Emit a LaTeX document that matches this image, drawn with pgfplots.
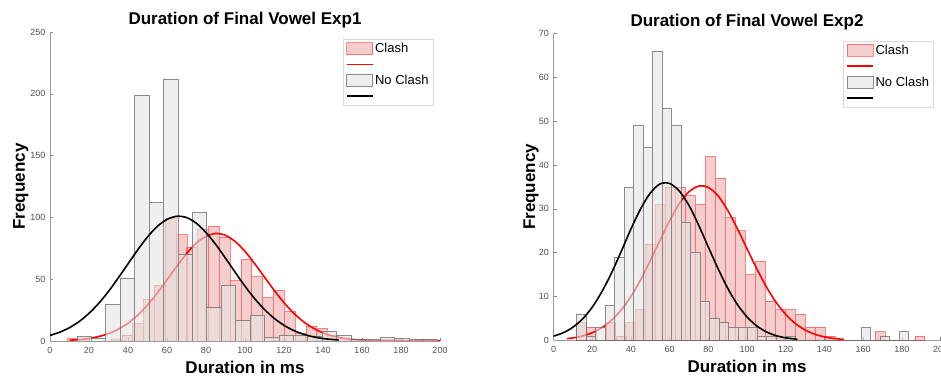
\documentclass[border=0pt]{standalone}
\usepackage{pgfplots}
\pgfplotsset{compat=1.18}
\usepackage{fontspec}
\setmainfont{Liberation Sans}
\definecolor{histred}{RGB}{228,130,130}
\definecolor{histgray}{RGB}{228,228,228}
\definecolor{edgegray}{RGB}{105,105,105}
\definecolor{ticklab}{RGB}{80,80,80}
\pgfplotsset{
  myaxis/.style={
    scale only axis,
    axis x line*=bottom, axis y line*=left,
    axis line style={black!40, line width=0.5pt, -},
    tick align=inside,
    major tick length=3pt,
    tick style={black!50, line width=0.5pt},
    xmin=0, xmax=200, ymin=0,
    xtick={0,20,...,200},
    /pgf/number format/assume math mode=true,
    tick label style={font=\fontsize{9}{10}\selectfont, text=ticklab},
    xticklabel style={anchor=base, yshift=-12.3pt},
    yticklabel style={xshift=-1.2pt},
    every axis title/.style={at={(axis description cs:0.5,1)}, anchor=base, yshift=7pt, font=\fontsize{17}{20}\selectfont\bfseries},
    every axis x label/.style={at={(axis description cs:0.5,0)}, anchor=base, yshift=-32pt, font=\fontsize{17}{20}\selectfont\bfseries},
    xlabel={Duration in ms}, ylabel={Frequency},
    legend style={at={(axis description cs:1,1)}, anchor=north east, xshift=-6.7pt, yshift=-7pt,
      draw=black!15, line width=0.6pt, font=\fontsize{13}{15}\selectfont,
      inner xsep=3pt, inner ysep=3pt, row sep=3.6pt,
      nodes={inner sep=0pt, inner xsep=1.5pt}},
    legend cell align=left,
    legend image code/.code={\draw[#1] (0pt,0pt) -- (26pt,0pt);},
  },
  redhist/.style={ybar, bar shift=0pt, fill=histred, fill opacity=0.4, draw=red, draw opacity=0.45, line width=0.6pt,
    legend image code/.code={\draw[#1] (0pt,-6pt) rectangle (26pt,6pt);}},
  grayhist/.style={ybar, bar shift=0pt, fill=histgray, fill opacity=0.6, draw=edgegray, draw opacity=0.75, line width=0.6pt,
    legend image code/.code={\draw[#1] (0pt,-6pt) rectangle (26pt,6pt);}},
}
\begin{document}
\begin{tikzpicture}[x=1pt,y=1pt]
\useasboundingbox (0,0) rectangle (941,377);
% ---------------- Exp1 ----------------
\begin{axis}[myaxis, at={(50pt,36pt)}, anchor=south west, width=390pt, height=309pt,
  ymax=250, ytick={0,50,...,250},
  title={Duration of Final Vowel Exp1},
  every axis y label/.style={at={(axis description cs:0,0.5)}, xshift=-25pt, rotate=90, anchor=base, font=\fontsize{17}{20}\selectfont\bfseries}]
\addplot[redhist, bar width=5.55] coordinates {
(11.9,2)(17.4,1)(23.0,0)(28.5,0)(34.1,1)(39.6,5)(45.2,14)(50.7,34)(56.3,45)(61.8,99)
(67.4,86)(72.9,76)(78.5,90)(84.0,93)(89.6,84)(95.1,49)(100.7,66)(106.2,52)(111.8,35)(117.3,41)
(122.9,24)(128.4,6)(134.0,12)(139.5,10)(145.1,5)(150.6,2)(156.2,1)(161.7,1)(167.3,0)(172.8,1)
(178.4,1)(183.9,0)(189.5,1)(195.0,1)};
\addlegendentry{Clash}
\addplot[red, line width=1.6pt, smooth] coordinates {
(10,0.62)(15,1.16)(20,2.10)(25,3.63)(30,6.00)(35,9.51)(40,14.4)(45,20.9)(50,29.1)(55,38.8)
(60,49.5)(65,60.4)(70,70.6)(75,79.1)(80,84.7)(85,87.0)(90,85.5)(95,80.4)(100,72.5)(105,62.5)
(110,51.7)(115,40.9)(120,31.0)(125,22.5)(130,15.6)(135,10.4)(140,6.6)(145,4.0)(150,2.35)(155,1.31)
(160,0.70)(170,0.18)(180,0.04)(190,0.01)(200,0)};
\addlegendentry{\strut}
\addplot[grayhist, bar width=7.4] coordinates {
(17.5,4)(24.9,2)(32.3,30)(39.7,51)(47.1,199)(54.5,112)(61.9,212)(69.3,70)(76.7,104)(84.1,27)
(91.5,45)(98.9,17)(106.3,21)(113.7,3)(121.1,5)(128.5,5)(135.9,4)(143.3,8)(150.7,5)(158.1,1)
(165.5,1)(172.9,3)(180.3,2)(187.7,1)(195.1,1)};
\addlegendentry{No Clash}
\addplot[black, line width=1.6pt, smooth] coordinates {
(0,4.55)(5,7.14)(10,10.8)(15,15.8)(20,22.4)(25,30.5)(30,40.1)(35,51.0)(40,62.4)(45,73.8)
(50,84.2)(55,92.7)(60,98.4)(65,100.9)(70,99.9)(75,95.3)(80,87.8)(85,78.1)(90,67.0)(95,55.5)
(100,44.3)(105,34.2)(110,25.5)(115,18.3)(120,12.7)(125,8.5)(130,5.5)(135,3.4)(140,2.0)(145,1.2)(148,0.8)};
\addlegendentry{\strut}
\end{axis}
% ---------------- Exp2 ----------------
\begin{axis}[myaxis, at={(553.5pt,36.7pt)}, anchor=south west, width=387pt, height=306.6pt,
  ymax=70, ytick={0,10,...,70},
  title={Duration of Final Vowel Exp2},
  every axis y label/.style={at={(axis description cs:0,0.5)}, xshift=-18.5pt, rotate=90, anchor=base, font=\fontsize{17}{20}\selectfont\bfseries}]
\addplot[redhist, bar width=5.15] coordinates {
(14.2,4)(19.3,3)(24.5,0)(29.6,4)(34.8,1)(39.9,4)(45.1,7)(50.2,22)(55.4,31)(60.5,35)
(65.7,35)(70.8,33)(76.0,31)(81.1,42)(86.3,37)(91.4,28)(96.6,25)(101.7,15)(106.9,18)(112.0,9)
(117.2,7)(122.3,7)(127.5,6)(132.6,3)(137.8,3)(142.9,1)(148.1,0)(153.2,0)(158.4,0)(163.5,0)
(168.7,2)(173.8,0)(179.0,0)(184.1,0)(189.3,1)};
\addlegendentry{Clash}
\addplot[red, line width=1.6pt, smooth] coordinates {
(7,0.37)(10,0.54)(15,0.99)(20,1.73)(25,2.88)(30,4.57)(35,6.93)(40,10.0)(45,13.8)(50,18.2)
(55,22.8)(60,27.3)(65,31.2)(70,33.9)(75,35.2)(80,34.9)(85,33.0)(90,29.7)(95,25.5)(100,20.9)
(105,16.4)(110,12.2)(115,8.70)(120,5.90)(125,3.82)(130,2.36)(135,1.39)(140,0.78)(145,0.42)(150,0.21)};
\addlegendentry{\strut}
\addplot[grayhist, bar width=4.9] coordinates {
(14.45,6)(19.35,1)(24.25,3)(29.15,8)(34.05,19)(38.95,35)(43.85,49)(48.75,44)(53.65,66)(58.55,53)
(63.45,49)(68.35,27)(73.25,20)(78.15,9)(83.05,5)(87.95,4)(92.85,3)(97.75,3)(102.65,3)(107.55,1)
(112.45,1)(117.35,0)(122.25,1)(127.15,0)(132.05,0)(136.95,0)(141.85,0)(146.75,0)(151.65,0)(156.55,0)
(161.45,3)(166.35,0)(171.25,1)(176.15,0)(181.05,2)(185.95,0)};
\addlegendentry{No Clash}
\addplot[black, line width=1.6pt, smooth] coordinates {
(0,0.95)(5,1.72)(10,2.98)(15,4.87)(20,7.55)(25,11.1)(30,15.4)(35,20.3)(40,25.4)(45,30.0)
(50,33.6)(55,35.7)(60,35.8)(65,34.1)(70,30.8)(75,26.3)(80,21.3)(85,16.4)(90,11.9)(95,8.19)
(100,5.34)(105,3.30)(110,1.93)(115,1.07)(120,0.56)(126,0.24)};
\addlegendentry{\strut}
\end{axis}
\end{tikzpicture}
\end{document}
